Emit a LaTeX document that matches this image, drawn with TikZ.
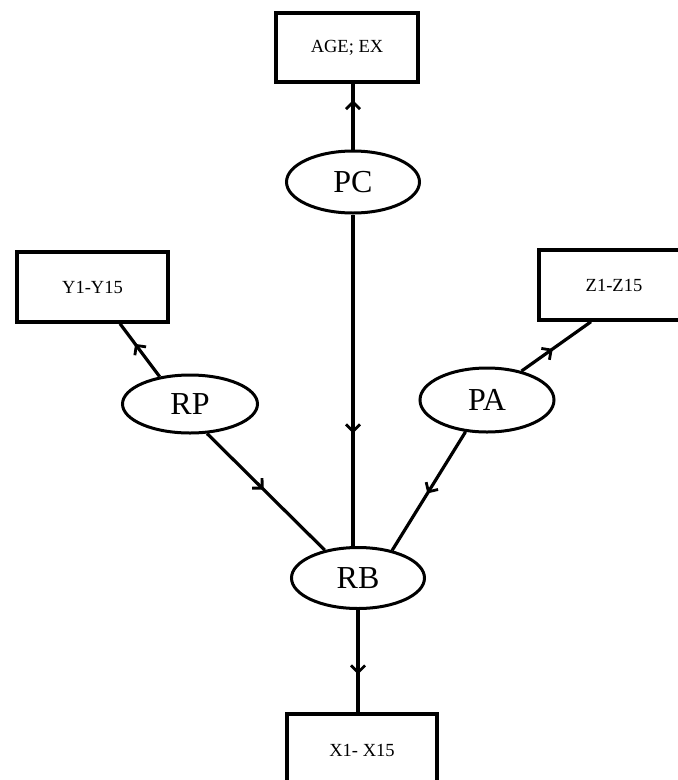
\documentclass[tikz,border=0pt]{standalone}
\usepackage{fontspec}
\setmainfont{Liberation Serif}
\usetikzlibrary{shapes.geometric,arrows.meta,decorations.markings,calc}
\tikzset{
  boxnode/.style={draw,line width=3.4pt,rectangle,inner sep=0pt,font=\fontsize{18.5}{20}\selectfont},
  ellnode/.style={draw,line width=3pt,ellipse,inner sep=0pt,minimum width=133pt,minimum height=62pt,font=\fontsize{32}{36}\selectfont},
  link/.style={line width=3.2pt},
  midarrow/.style={postaction={decorate,decoration={markings,mark=at position #1 with {\arrow{Straight Barb[length=7pt,width=14pt,line width=2.8pt]}}}}}
}
\begin{document}
\begin{tikzpicture}[x=1pt,y=-1pt]
\useasboundingbox (0,0) rectangle (678,780);
\clip (0,0) rectangle (678,780);
\node[boxnode,minimum width=142pt,minimum height=69pt] (age) at (347,47.5) {AGE; EX};
\node[boxnode,minimum width=151pt,minimum height=70pt] (y) at (92.5,287) {Y1-Y15};
\node[boxnode,minimum width=150pt,minimum height=70pt] (z) at (614,285) {Z1-Z15};
\node[boxnode,minimum width=150pt,minimum height=72pt] (x) at (362,750) {X1- X15};
\node[ellnode] (pc) at (353,182) {PC};
\node[ellnode,minimum width=135pt,minimum height=58pt] (rp) at (190,404) {RP};
\node[ellnode,minimum width=134pt,minimum height=64pt] (pa) at (487,400) {PA};
\node[ellnode,minimum height=61pt] (rb) at (358,578) {RB};
\draw[link,midarrow=0.75] (pc.north) -- (pc.north |- age.south);
\draw[link,midarrow=0.66] (pc.south) -- (pc.south |- rb.north);
\draw[link,midarrow=0.62] (rp.138) -- ($(y.south)+(27.5,0)$);
\draw[link,midarrow=0.48] (rp.-60) -- (rb.140);
\draw[link,midarrow=0.45] (pa.40) -- ($(z.south)+(-23,0)$);
\draw[link,midarrow=0.52] (pa.-124) -- (rb.39);
\draw[link,midarrow=0.63] (rb.south) -- (rb.south |- x.north);
\end{tikzpicture}
\end{document}
